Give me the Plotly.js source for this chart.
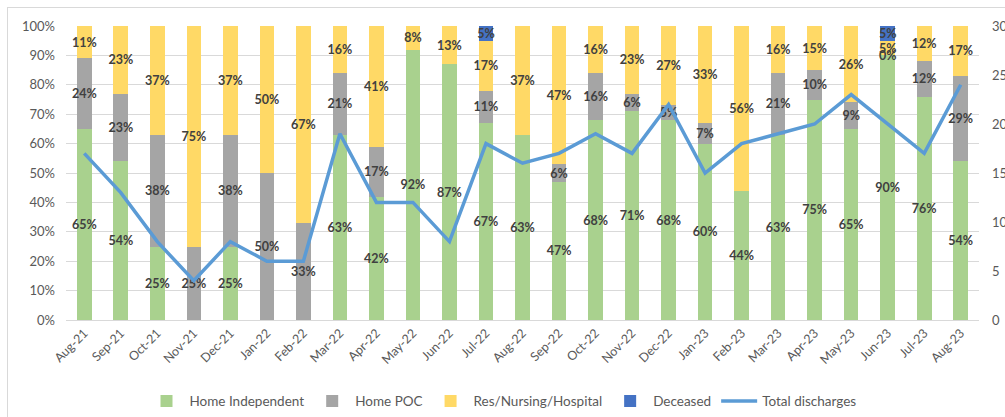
<!DOCTYPE html>
<html>
<head>
<meta charset="utf-8">
<script src="https://cdn.plot.ly/plotly-3.0.1.min.js"></script>
<style>
html,body{margin:0;padding:0;background:#fff;}
#wrap{position:relative;width:1005px;height:417px;overflow:hidden;}
#chart{width:1005px;height:417px;}
#frame{position:absolute;left:7px;top:7px;width:1100px;height:500px;border:1px solid #D9D9D9;pointer-events:none;}
</style>
</head>
<body>
<div id="wrap"><div id="chart"></div><div id="frame"></div></div>
<script>
const months = ["Aug-21","Sep-21","Oct-21","Nov-21","Dec-21","Jan-22","Feb-22","Mar-22","Apr-22","May-22","Jun-22","Jul-22","Aug-22","Sep-22","Oct-22","Nov-22","Dec-22","Jan-23","Feb-23","Mar-23","Apr-23","May-23","Jun-23","Jul-23","Aug-23"];
const homeIndependent = [65,54,25,null,25,null,null,63,42,92,87,67,63,47,68,71,68,60,44,63,75,65,90,76,54];
const homePOC        = [24,23,38,25,38,50,33,21,17,null,null,11,null,6,16,6,5,7,null,21,10,9,0,12,29];
const resNursing     = [11,23,37,75,37,50,67,16,41,8,13,17,37,47,16,23,27,33,56,16,15,26,5,12,17];
const deceased       = [null,null,null,null,null,null,null,null,null,null,null,5,null,null,null,null,null,null,null,null,null,null,5,null,null];
const totalDischarges = [17,13,8,4,8,6,6,19,12,12,8,18,16,17,19,17,22,15,18,19,20,23,20,17,24];

const FONT = "Lato, 'Liberation Sans', sans-serif";
const LABEL_COLOR = "#404040";
const lbl = arr => arr.map(v => (v === null ? "" : v + "%"));

function barTrace(name, vals, color) {
  return {
    type: "bar", name: name, x: months, y: vals,
    marker: {color: color},
    text: lbl(vals), textposition: "inside", insidetextanchor: "middle",
    textangle: 0, constraintext: "none", cliponaxis: false,
    textfont: {family: FONT, size: 12.5, color: LABEL_COLOR, weight: "bold"},
    hoverinfo: "x+y+name"
  };
}

const traces = [
  barTrace("Home Independent", homeIndependent, "#A9D18E"),
  barTrace("Home POC", homePOC, "#A5A5A5"),
  barTrace("Res/Nursing/Hospital", resNursing, "#FFD966"),
  barTrace("Deceased", deceased, "#4472C4"),
  {
    type: "scatter", mode: "lines", name: "Total discharges",
    x: months, y: totalDischarges, yaxis: "y2",
    line: {color: "#5B9BD5", width: 3.5}
  }
];

// zero-valued (not blank) segments still get an Excel-style "0%" label
const annotations = [];
const series = [homeIndependent, homePOC, resNursing, deceased];
months.forEach((m, i) => {
  let base = 0;
  series.forEach(s => {
    const v = s[i];
    if (v === 0) {
      annotations.push({x: m, y: base, xref: "x", yref: "y", text: "0%", showarrow: false,
        font: {family: FONT, size: 12.5, color: LABEL_COLOR, weight: "bold"}});
    }
    base += (v || 0);
  });
});

const layout = {
  width: 1005, height: 417,
  margin: {l: 66, r: 26, t: 26, b: 97},
  paper_bgcolor: "#fff", plot_bgcolor: "#fff",
  barmode: "stack", bargap: 0.6,
  font: {family: FONT, color: "#595959", size: 13},
  showlegend: true,
  legend: {orientation: "h", x: 0.5, xanchor: "center", xref: "container",
    y: 0.075, yanchor: "top", yref: "container",
    font: {family: FONT, size: 13.5, color: "#595959"}, traceorder: "normal", itemwidth: 36},
  xaxis: {type: "category", automargin: false, tickangle: -45, tickfont: {family: FONT, size: 12.5, color: "#595959"},
    showline: true, linecolor: "#D9D9D9", linewidth: 1, ticks: "", showgrid: false},
  yaxis: {range: [0, 100], dtick: 10, ticksuffix: "%", gridcolor: "#D9D9D9", gridwidth: 1, automargin: false,
    zeroline: false, showline: false, ticks: "", tickfont: {family: FONT, size: 13, color: "#595959"},
    ticklabelstandoff: 10},
  yaxis2: {range: [0, 30], dtick: 5, overlaying: "y", side: "right", showgrid: false, automargin: false,
    zeroline: false, showline: false, ticks: "", tickfont: {family: FONT, size: 13, color: "#595959"},
    ticklabelstandoff: 12},
  annotations: annotations
};

Plotly.newPlot("chart", traces, layout, {displayModeBar: false, staticPlot: true});
</script>
</body>
</html>
